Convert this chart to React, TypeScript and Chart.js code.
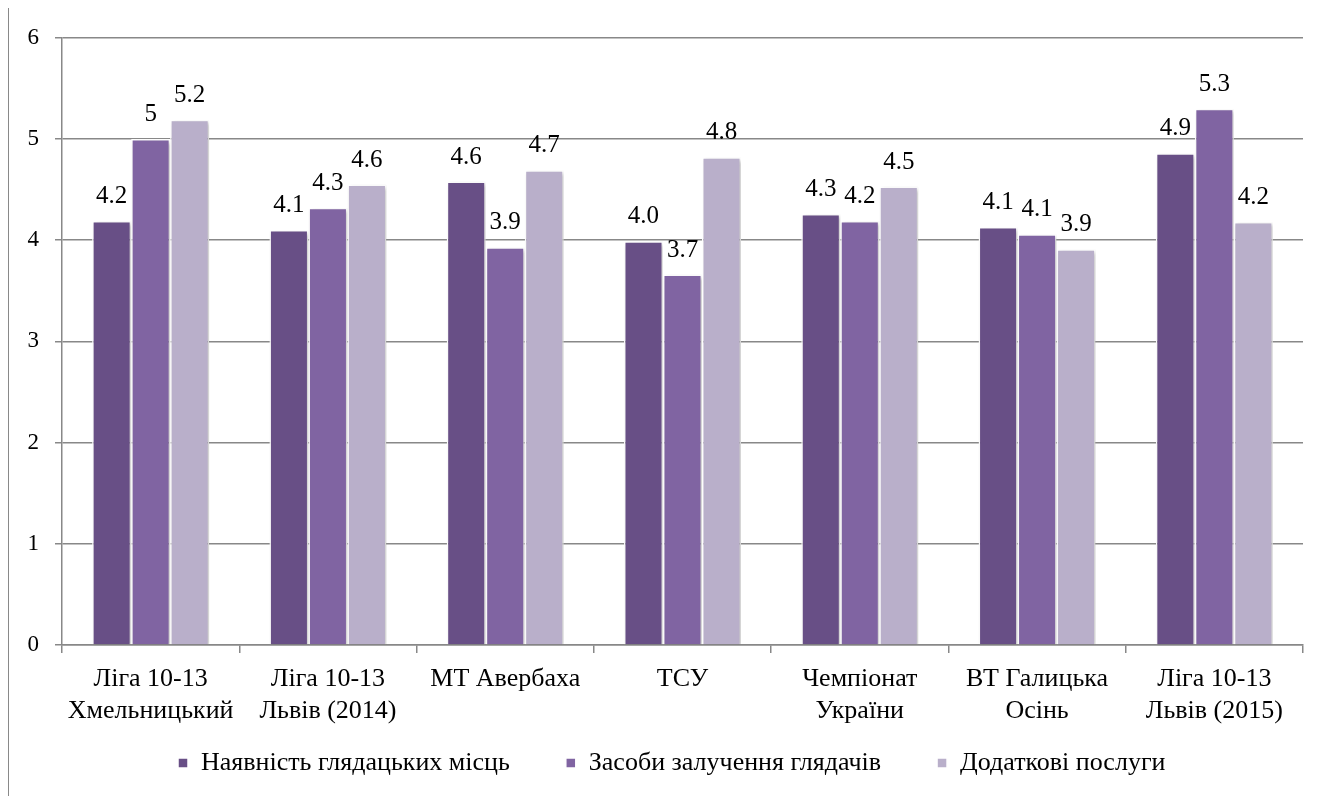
import React, { useEffect, useRef } from "react";
import { Chart, registerables } from "chart.js";

Chart.register(...registerables);

const categories: (string | string[])[] = [
  ["Ліга 10-13", "Хмельницький"],
  ["Ліга 10-13", "Львів (2014)"],
  "МТ Авербаха",
  "ТСУ",
  ["Чемпіонат", "України"],
  ["ВТ Галицька", "Осінь"],
  ["Ліга 10-13", "Львів (2015)"],
];

const seriesNames = [
  "Наявність глядацьких місць",
  "Засоби залучення глядачів",
  "Додаткові послуги",
];

const seatingValues = [4.19, 4.1, 4.58, 3.99, 4.26, 4.13, 4.86];
const attractionValues = [5.0, 4.32, 3.93, 3.66, 4.19, 4.06, 5.3];
const extraValues = [5.19, 4.55, 4.69, 4.82, 4.53, 3.91, 4.18];

const seatingLabels = ["4.2", "4.1", "4.6", "4.0", "4.3", "4.1", "4.9"];
const attractionLabels = ["5", "4.3", "3.9", "3.7", "4.2", "4.1", "5.3"];
const extraLabels = ["5.2", "4.6", "4.7", "4.8", "4.5", "3.9", "4.2"];

const yTicks = [0, 1, 2, 3, 4, 5, 6];

const colors = ["#684f86", "#8064a2", "#b9afca"];
const FONT = "'Liberation Serif', 'Times New Roman', serif";

export default function App() {
  const ref = useRef<HTMLCanvasElement | null>(null);

  useEffect(() => {
    if (!ref.current) return;
    Chart.defaults.font.family = FONT;
    Chart.defaults.color = "#000";
    const allLabels = [seatingLabels, attractionLabels, extraLabels];

    const shadowPlugin = {
      id: "barShadow",
      beforeDatasetsDraw(chart: any) {
        const ctx = chart.ctx;
        ctx.save();
        ctx.shadowColor = "rgba(0,0,0,0.22)";
        ctx.shadowBlur = 4;
        ctx.shadowOffsetX = 2;
        ctx.shadowOffsetY = 2;
      },
      afterDatasetsDraw(chart: any) {
        chart.ctx.restore();
      },
    };

    const labelPlugin = {
      id: "valueLabels",
      afterDatasetsDraw(chart: any) {
        const ctx = chart.ctx;
        ctx.save();
        ctx.font = `25px ${FONT}`;
        ctx.fillStyle = "#000";
        ctx.textAlign = "center";
        ctx.textBaseline = "alphabetic";
        chart.data.datasets.forEach((_ds: any, di: number) => {
          const meta = chart.getDatasetMeta(di);
          meta.data.forEach((bar: any, i: number) => {
            ctx.fillText(allLabels[di][i], bar.x, bar.y - 18);
          });
        });
        ctx.restore();
      },
    };

    // place the legend row where the reference has it
    const legendShift = {
      id: "legendShift",
      afterLayout(chart: any) {
        const l = chart.legend;
        if (l) {
          l.left += 104;
          l.right += 104;
          l.top -= 31;
        }
      },
    };

    const chart = new Chart(ref.current, {
      type: "bar",
      data: {
        labels: categories,
        datasets: [seatingValues, attractionValues, extraValues].map((vals, i) => ({
          label: seriesNames[i],
          data: vals,
          backgroundColor: colors[i],
          borderColor: "#ffffff",
          borderWidth: 1.5,
          barPercentage: 1,
          categoryPercentage: 0.66,
        })),
      },
      options: {
        animation: false,
        responsive: true,
        maintainAspectRatio: false,
        layout: { padding: { left: 9, right: 28, top: 27, bottom: 5 } },
        plugins: {
          tooltip: { enabled: false },
          legend: {
            position: "bottom",
            align: "start",
            maxHeight: 66,
            labels: {
              boxWidth: 10,
              boxHeight: 10,
              padding: 56,
              color: "#000",
              font: { size: 26, family: FONT },
            },
          },
        },
        scales: {
          x: {
            afterFit: (s: any) => {
              s.height = 80;
            },
            grid: {
              drawOnChartArea: false,
              drawTicks: true,
              tickLength: 8,
              offset: true,
              color: "#888888",
              lineWidth: 1.5,
            },
            border: { color: "#888888", width: 1.5 },
            ticks: {
              color: "#000",
              padding: 11,
              maxRotation: 0,
              autoSkip: false,
              font: { size: 26, family: FONT, lineHeight: 1.2 },
            },
          },
          y: {
            min: 0,
            max: 6,
            afterFit: (s: any) => {
              s.width = 44;
            },
            afterBuildTicks: (s: any) => {
              s.ticks = yTicks.map((v) => ({ value: v }));
            },
            grid: {
              color: "#888888",
              lineWidth: 1.5,
              tickLength: 7,
            },
            border: { color: "#888888", width: 1.5 },
            ticks: {
              color: "#000",
              padding: 16,
              font: { size: 23, family: FONT },
            },
          },
        },
      },
      plugins: [shadowPlugin, labelPlugin, legendShift],
    });
    return () => chart.destroy();
  }, []);

  return (
    <div
      style={{
        width: 1324,
        height: 789,
        marginTop: -1,
        borderTop: "1px solid #898989",
        borderLeft: "1px solid #898989",
        borderRight: "1px solid #898989",
        boxSizing: "border-box",
        position: "relative",
        overflow: "hidden",
      }}
    >
      <div style={{ width: 1322, height: 788, position: "relative" }}>
        <canvas ref={ref} />
      </div>
    </div>
  );
}
